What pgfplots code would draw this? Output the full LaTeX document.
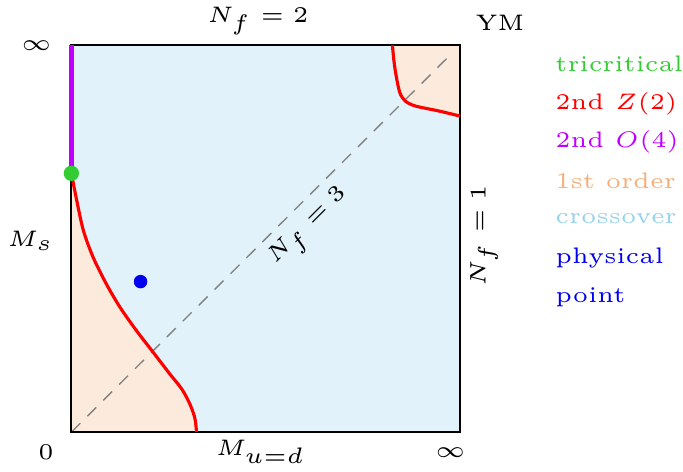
\documentclass[border=0pt]{standalone}
\usepackage{pgfplots}
\pgfplotsset{compat=1.18}
\definecolor{crossFill}{HTML}{E1F2FA}
\definecolor{firstFill}{HTML}{FCEBDC}
\definecolor{firstTxt}{HTML}{F6AE78}
\definecolor{crossTxt}{HTML}{94D2EF}
\definecolor{triGreen}{HTML}{33CC33}
\definecolor{oPurple}{HTML}{C000FF}
\definecolor{physBlue}{HTML}{0000F0}
\begin{document}
\tiny
\begin{tikzpicture}
\begin{axis}[
  scale only axis, width=86.5pt, height=86.1pt,
  xmin=0, xmax=1, ymin=0, ymax=1,
  xtick=\empty, ytick=\empty,
  axis background/.style={fill=crossFill},
  clip=false, font=\tiny]
% first-order regions
\addplot[fill=firstFill, draw=none, smooth] coordinates {
  (0,0.669) (0.014,0.598) (0.031,0.521) (0.056,0.452) (0.09,0.383) (0.125,0.323)
  (0.167,0.263) (0.21,0.207) (0.252,0.152) (0.285,0.11) (0.306,0.07) (0.318,0.035) (0.322,0)} \closedcycle;
\addplot[fill=firstFill, draw=none, smooth] coordinates {
  (0.826,1) (0.83,0.96) (0.835,0.925) (0.845,0.878) (0.859,0.856) (0.885,0.843)
  (0.946,0.830) (1,0.817)} -- (axis cs:1,1) -- cycle;
% N_f = 3 diagonal
\addplot[gray, line width=0.3pt, dash pattern=on 2.8pt off 2.2pt] coordinates {(0,0) (0.97,0.97)};
\draw[line width=0.4pt] (rel axis cs:0,0) rectangle (rel axis cs:1,1);
% Z(2) lines
\addplot[red, line width=0.7pt, smooth] coordinates {
  (0,0.669) (0.014,0.598) (0.031,0.521) (0.056,0.452) (0.09,0.383) (0.125,0.323)
  (0.167,0.263) (0.21,0.207) (0.252,0.152) (0.285,0.11) (0.306,0.07) (0.318,0.035) (0.322,0)};
\addplot[red, line width=0.7pt, smooth] coordinates {
  (0.826,1) (0.83,0.96) (0.835,0.925) (0.845,0.878) (0.859,0.856) (0.885,0.843)
  (0.946,0.830) (1,0.817)};
% O(4) line
\addplot[oPurple, line width=1.1pt] coordinates {(0,0.669) (0,1)};
% points
\addplot[only marks, mark=*, mark size=1.5pt, triGreen] coordinates {(0,0.669)};
\addplot[only marks, mark=*, mark size=1.3pt, physBlue] coordinates {(0.178,0.389)};
% labels
\node at (axis cs:0.48,1.062) {$N_f = 2$};
\node at (axis cs:1.103,1.057) {YM};
\node at (axis cs:-0.09,1.0) {$\infty$};
\node at (axis cs:-0.105,0.495) {$M_s$};
\node at (axis cs:-0.065,-0.052) {$0$};
\node at (axis cs:0.487,-0.052) {$M_{u=d}$};
\node at (axis cs:0.975,-0.052) {$\infty$};
\node[rotate=90] at (axis cs:1.062,0.508) {$N_f = 1$};
\node[rotate=45] at (axis cs:0.613,0.528) {$N_f = 3$};
% legend
\begin{scope}[every node/.style={anchor=base west, inner sep=0pt}]
\node[text=triGreen] at (axis cs:1.243,0.931) {tricritical};
\node[text=red] at (axis cs:1.243,0.835) {2nd $Z(2)$};
\node[text=oPurple] at (axis cs:1.243,0.735) {2nd $O(4)$};
\node[text=firstTxt] at (axis cs:1.243,0.631) {1st order};
\node[text=crossTxt] at (axis cs:1.243,0.539) {crossover};
\node[text=physBlue] at (axis cs:1.243,0.436) {physical};
\node[text=physBlue] at (axis cs:1.243,0.335) {point};
\end{scope}
\end{axis}
\end{tikzpicture}
\end{document}
